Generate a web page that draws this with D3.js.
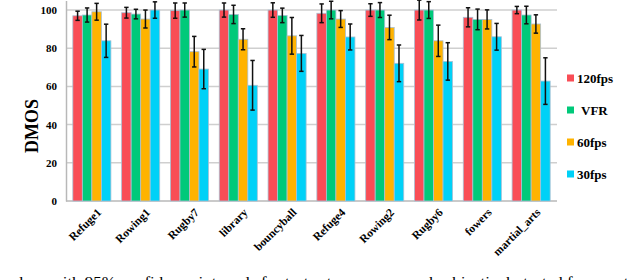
<!DOCTYPE html>
<html>
<head>
<meta charset="utf-8">
<script src="https://cdn.jsdelivr.net/npm/d3@7"></script>
<style>
  body { margin: 0; background: #fff; }
  svg { display: block; }
  text { font-family: "Liberation Serif", "DejaVu Serif", serif; }
</style>
</head>
<body>
<div id="chart"></div>
<script>
// sequences on the x axis
var sequences = ["Refuge1", "Rowing1", "Rugby7", "library", "bouncyball",
  "Refuge4", "Rowing2", "Rugby6", "fowers", "martial_arts"];

var seriesNames = ["120fps", "VFR", "60fps", "30fps"];
var seriesColors = ["#f94d56", "#00c97a", "#ffb300", "#00d1f7"];

// DMOS means per series
var dmos120 = [97.0, 98.6, 99.7, 100, 100, 98.3, 100, 100, 96.2, 100];
var dmosVFR = [97.4, 97.9, 100, 97.7, 97.2, 100, 100, 100, 95.1, 97.4];
var dmos60 = [99.1, 95.3, 78.2, 84.7, 86.5, 95.3, 90.9, 83.9, 95.1, 92.7];
var dmos30 = [83.9, 100, 69.1, 60.6, 77.3, 85.9, 72.1, 73.1, 86.0, 62.8];

// half widths of the 95% confidence intervals
var ci120 = [2.4, 2.8, 4.0, 3.7, 3.8, 4.9, 3.3, 5.2, 5.0, 1.9];
var ciVFR = [3.7, 2.5, 3.7, 4.8, 3.8, 4.6, 3.9, 4.4, 5.4, 4.6];
var ci60 = [4.4, 4.7, 8.0, 5.5, 9.6, 4.4, 6.4, 8.2, 5.0, 4.8];
var ci30 = [8.7, 4.3, 10.3, 13.0, 9.4, 6.8, 9.6, 9.8, 7.0, 12.2];

var yTicks = [0, 20, 40, 60, 80, 100];

var caption = "values with 95% confidence intervals for test set sequences and subjectively tested frame rate";

var means = [dmos120, dmosVFR, dmos60, dmos30];
var cis = [ci120, ciVFR, ci60, ci30];

var svgWidth = 640;
var svgHeight = 280;

var margin = { top: 0.5, left: 66, right: 83, bottom: 79 };
var plotRight = svgWidth - margin.right;
var plotBottom = svgHeight - margin.bottom;

var svg = d3.select("#chart")
  .append("svg")
  .attr("width", svgWidth)
  .attr("height", svgHeight);

var x0 = d3.scaleBand()
  .domain(sequences)
  .range([margin.left, plotRight])
  .paddingInner(0.22)
  .paddingOuter(0.14);

var x1 = d3.scaleBand()
  .domain(seriesNames)
  .range([0, x0.bandwidth()]);

var y = d3.scaleLinear()
  .domain([0, 105])
  .range([plotBottom, margin.top]);

// horizontal grid lines
svg.append("g")
  .selectAll("line")
  .data(yTicks.slice(1))
  .enter()
  .append("line")
  .attr("x1", margin.left)
  .attr("x2", plotRight)
  .attr("y1", d => y(d))
  .attr("y2", d => y(d))
  .attr("stroke", "#cfcfcf")
  .attr("stroke-width", 1.5);

// left axis
var leftAxis = d3.axisLeft(y)
  .tickValues(yTicks)
  .tickSize(0)
  .tickPadding(9);

var yAxis = svg.append("g")
  .attr("transform", `translate(${margin.left}, 0)`)
  .call(leftAxis);
yAxis.select(".domain").attr("stroke", "#b8b8b8").attr("stroke-width", 1.5);
yAxis.selectAll("text")
  .attr("font-size", "11px")
  .attr("font-weight", "bold")
  .attr("fill", "#000")
  .style("font-family", "'Liberation Serif', serif");

// bottom axis line
svg.append("line")
  .attr("x1", margin.left)
  .attr("x2", plotRight)
  .attr("y1", plotBottom)
  .attr("y2", plotBottom)
  .attr("stroke", "#b8b8b8")
  .attr("stroke-width", 1.5);

// bars and error bars
var groups = svg.append("g")
  .selectAll("g")
  .data(sequences)
  .enter()
  .append("g")
  .attr("transform", d => `translate(${x0(d)}, 0)`);

var cells = groups.selectAll("g")
  .data((d, i) => seriesNames.map((s, j) => ({ series: s, idx: j, mean: means[j][i], ci: cis[j][i] })))
  .enter()
  .append("g");

cells.append("rect")
  .attr("x", d => x1(d.series))
  .attr("width", x1.bandwidth())
  .attr("y", d => y(d.mean))
  .attr("height", d => y(0) - y(d.mean))
  .attr("fill", d => seriesColors[d.idx])
  .attr("stroke", "#a9c0d4")
  .attr("stroke-width", 0.8);

var capHalf = 2.2;
cells.append("line")
  .attr("x1", d => x1(d.series) + x1.bandwidth() / 2)
  .attr("x2", d => x1(d.series) + x1.bandwidth() / 2)
  .attr("y1", d => y(d.mean + d.ci))
  .attr("y2", d => y(d.mean - d.ci))
  .attr("stroke", "#111")
  .attr("stroke-width", 1.5);

cells.selectAll(".cap")
  .data(d => [d.mean + d.ci, d.mean - d.ci].map(v => ({ v: v, cx: x1(d.series) + x1.bandwidth() / 2 })))
  .enter()
  .append("line")
  .attr("class", "cap")
  .attr("x1", d => d.cx - capHalf)
  .attr("x2", d => d.cx + capHalf)
  .attr("y1", d => y(d.v))
  .attr("y2", d => y(d.v))
  .attr("stroke", "#111")
  .attr("stroke-width", 1.5);

// rotated sequence labels, centred on their own middle and turned -45 degrees
var s45 = Math.SQRT1_2;
var labelSize = 11.5;
var xLabels = svg.append("g")
  .selectAll("text")
  .data(sequences)
  .enter()
  .append("text")
  .attr("text-anchor", "middle")
  .attr("font-size", labelSize + "px")
  .attr("font-weight", "bold")
  .text(d => d);

xLabels.attr("transform", function(d) {
  var len = this.getComputedTextLength();
  var endX = x0(d) + x0.bandwidth() / 2 + 4;
  var endY = plotBottom + 6;
  var shift = 0.75 * labelSize * s45;
  var cx = endX - s45 * len / 2 + shift;
  var cy = endY + s45 * len / 2 + shift;
  return "translate(" + cx + "," + cy + ") rotate(-45)";
});

// y axis title
svg.append("text")
  .attr("transform", "translate(38,126) rotate(-90)")
  .attr("text-anchor", "middle")
  .attr("font-size", "18px")
  .attr("font-weight", "bold")
  .text("DMOS");

// legend
var legend = svg.append("g")
  .selectAll("g")
  .data(seriesNames)
  .enter()
  .append("g")
  .attr("transform", (d, i) => `translate(567, ${78 + i * 32})`);

legend.append("rect")
  .attr("x", 0)
  .attr("y", -3.5)
  .attr("width", 7)
  .attr("height", 7)
  .attr("fill", (d, i) => seriesColors[i]);

legend.append("text")
  .attr("x", d => d === "VFR" ? 14 : 10)
  .attr("dy", "0.35em")
  .attr("font-size", "13px")
  .attr("font-weight", "bold")
  .text(d => d);

// caption cut by the bottom edge, as in the source figure
svg.append("text")
  .attr("x", 3)
  .attr("y", 287)
  .attr("font-size", "15px")
  .attr("textLength", 633)
  .attr("lengthAdjust", "spacingAndGlyphs")
  .text(caption);
</script>
</body>
</html>
